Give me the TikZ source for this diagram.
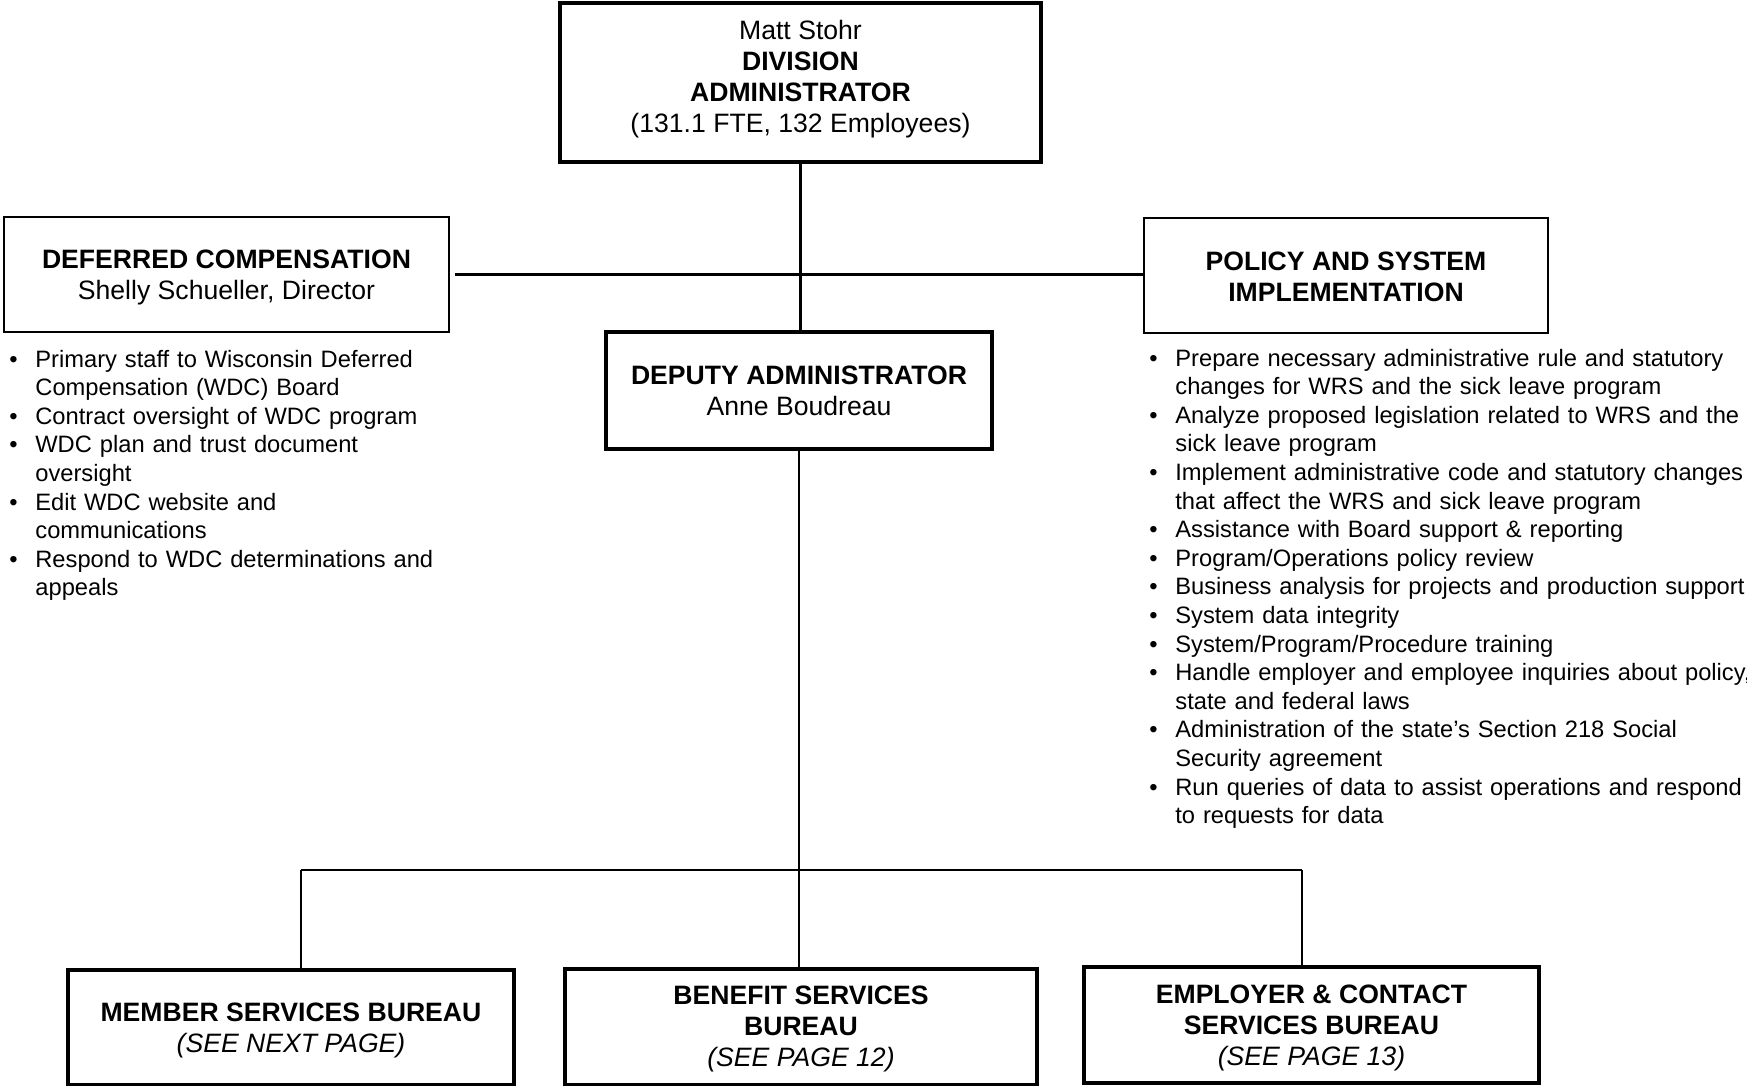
\documentclass[tikz,border=0pt]{standalone}
\usepackage{fontspec}
\setmainfont{Liberation Sans}
\newcommand{\bfirst}{\noindent\hangindent=13pt\hangafter=1\makebox[13pt][l]{•}}
\newcommand{\bitem}{\par\bfirst}
\tikzset{
  box/.style={draw, inner sep=0pt},
  heavy/.style={box, line width=1.6pt},
  light/.style={box, line width=0.8pt},
  btext/.style={align=center, inner sep=0pt, font=\fontsize{13.3}{15.5}\selectfont},
  conn/.style={line width=1.1pt},
  blist/.style={anchor=base west, inner sep=0pt, text width=#1, font=\fontsize{11.85}{14.3}\selectfont}
}
\begin{document}
\begin{tikzpicture}[x=0.5pt,y=-0.5pt]
\useasboundingbox (0,0) rectangle (1747,1086);
% boxes
\node[heavy, minimum width=240.5pt, minimum height=79.5pt] (top) at (800.5,82.5) {};
\node[light, minimum width=222.5pt, minimum height=57.5pt] (dc) at (226.5,274.5) {};
\node[light, minimum width=202pt, minimum height=57.5pt] (ps) at (1346,275.5) {};
\node[heavy, minimum width=193pt, minimum height=58.5pt] (dep) at (799,390.5) {};
\node[heavy, minimum width=223pt, minimum height=57.5pt] (mem) at (291,1027.5) {};
\node[heavy, minimum width=236pt, minimum height=58pt] (ben) at (801,1027) {};
\node[heavy, minimum width=227.5pt, minimum height=58pt] (emp) at (1311.5,1025) {};
% box texts
\node[btext] (topt) at ([yshift=1.7pt]top.center)
  {Matt Stohr\\\textbf{DIVISION}\\\textbf{ADMINISTRATOR}\\(131.1 FTE, 132 Employees)};
\node[btext] (dct) at ([yshift=-1.6pt]dc.center)
  {\textbf{DEFERRED COMPENSATION}\\Shelly Schueller, Director};
\node[btext] (pst) at ([yshift=-0.5pt]ps.center)
  {\textbf{POLICY AND SYSTEM}\\\textbf{IMPLEMENTATION}};
\node[btext] (dept) at (dep.center)
  {\textbf{DEPUTY ADMINISTRATOR}\\Anne Boudreau};
\node[btext] (memt) at ([yshift=-1.6pt]mem.center)
  {\textbf{MEMBER SERVICES BUREAU}\\\textit{(SEE NEXT PAGE)}};
\node[btext] (bent) at ([yshift=-1pt]ben.center)
  {\textbf{BENEFIT SERVICES}\\\textbf{BUREAU}\\\textit{(SEE PAGE 12)}};
\node[btext] (empt) at ([yshift=-1.6pt]emp.center)
  {\textbf{EMPLOYER \& CONTACT}\\\textbf{SERVICES BUREAU}\\\textit{(SEE PAGE 13)}};
% bullet lists
\node[blist=230pt] (dcl) at (9,367) {%
\bfirst Primary staff to Wisconsin Deferred\newline Compensation (WDC) Board
\bitem Contract oversight of WDC program
\bitem WDC plan and trust document\newline oversight
\bitem Edit WDC website and\newline communications
\bitem Respond to WDC determinations and\newline appeals\par};
\node[blist=310pt] (psl) at (1149,366) {%
\bfirst Prepare necessary administrative rule and statutory\newline changes for WRS and the sick leave program
\bitem Analyze proposed legislation related to WRS and the\newline sick leave program
\bitem Implement administrative code and statutory changes\newline that affect the WRS and sick leave program
\bitem Assistance with Board support \& reporting
\bitem Program/Operations policy review
\bitem Business analysis for projects and production support
\bitem System data integrity
\bitem System/Program/Procedure training
\bitem Handle employer and employee inquiries about policy,\newline state and federal laws
\bitem Administration of the state’s Section 218 Social\newline Security agreement
\bitem Run queries of data to assist operations and respond\newline to requests for data\par};
% connectors
\coordinate (busL) at (301,870);
\coordinate (busR) at (1302,870);
\draw[conn] (top.south) -- (top.south |- dep.north);
\draw[conn, shorten <=2.5pt] (dc.east) -- (dc.east -| ps.west);
\draw[conn] (dep.south) -- (dep.south |- ben.north);
\draw[conn] (busL) -- (busR);
\draw[conn] (busL) -- (busL |- mem.north);
\draw[conn] (busR) -- (busR |- emp.north);
\end{tikzpicture}
\end{document}
